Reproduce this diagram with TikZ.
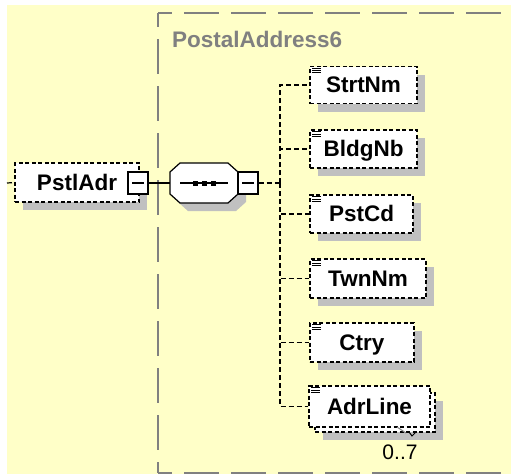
\documentclass[tikz,border=0pt]{standalone}
\usepackage{fontspec}
\setmainfont{Liberation Sans}
\usetikzlibrary{shadows,calc}
\definecolor{bgyellow}{RGB}{255,255,200}
\definecolor{shadowgray}{RGB}{192,192,192}
\definecolor{groupgray}{RGB}{128,128,128}
\tikzset{
  elemplain/.style={draw=black, fill=white, line width=1.2pt, dash pattern=on 4pt off 2.5pt, inner sep=0pt, minimum height=37pt, text height=16pt, text depth=1pt, font=\fontsize{22.5}{24}\selectfont\bfseries},
  elembox/.style={elemplain, general shadow={fill=shadowgray, shadow xshift=8pt, shadow yshift=-8pt}},
  minusbox/.style={draw=black, solid, fill=white, line width=1.2pt, minimum width=20pt, minimum height=22pt, inner sep=0pt, path picture={\draw[line width=1.2pt] ([xshift=4pt]path picture bounding box.west) -- ([xshift=-4pt]path picture bounding box.east);}},
  conn/.style={draw=black, line width=1.2pt, dash pattern=on 5pt off 3pt},
  solidconn/.style={draw=black, line width=1.2pt},
  groupline/.style={draw=groupgray, line width=1.3pt, dash pattern=on 35pt off 12pt, dash phase=21pt},
  iconline/.style={draw=black, line width=0.9pt},
}
\begin{document}
\begin{tikzpicture}[x=1pt,y=-1pt]
\useasboundingbox (0,0) rectangle (511,474);
\begin{scope}
  \clip (0,0) rectangle (511,474);
  \fill[white] (0,0) rectangle (511,474);
  \fill[bgyellow] (7,5) rectangle (511,474);
  \draw[groupline] (158,13) -- (530,13);
  \draw[groupline] (158,13) -- (158,473);
  \draw[groupline] (158,473) -- (530,473);
\end{scope}
\node[anchor=base west, inner sep=0pt, text=groupgray, font=\fontsize{22.5}{24}\selectfont\bfseries] (gtitle) at (172,47) {PostalAddress6};

% parent element
\node[elembox, minimum width=124pt, minimum height=39pt] (pstl) at (77,182.5) {PstlAdr\hspace{9pt}};
\node[minusbox] (pstlm) at (138,183) {};

% sequence compositor
\node[inner sep=0pt, minimum width=68pt, minimum height=40pt] (seq) at (204,183) {};
\fill[shadowgray, shift={(8,8)}] (170,172) -- (180,163) -- (228,163) -- (238,172) -- (238,194) -- (228,203) -- (180,203) -- (170,194) -- cycle;
\draw[solidconn, fill=white] (170,172) -- (180,163) -- (228,163) -- (238,172) -- (238,194) -- (228,203) -- (180,203) -- (170,194) -- cycle;
\draw[solidconn] (180,183) -- (228,183);
\foreach \dx in {195.5,204,213.5} \fill[black] (\dx-2.5,180.5) rectangle (\dx+2.5,185.5);
\node[minusbox] (seqm) at (248,183) {};

\draw[solidconn] (pstlm.east) -- (seq.west);
\coordinate (lin) at (7,183);
\draw[conn] (lin) -- (pstl.west);
\coordinate (vjoin) at (280,183);
\draw[conn] (seqm.east) -- (vjoin);

% children
\node[elembox, minimum width=107pt, minimum height=37pt] (strt) at (363.5,85) {StrtNm};
\node[elembox, minimum width=107pt, minimum height=38pt] (bldg) at (363.5,149) {BldgNb};
\node[elembox, minimum width=103pt, minimum height=38pt] (pstcd) at (361.5,214) {PstCd};
\node[elembox, minimum width=116pt, minimum height=39pt] (twn) at (368,278.5) {TwnNm};
\node[elembox, minimum width=104pt, minimum height=39pt] (ctry) at (362,342.5) {Ctry};
\node[elembox, minimum width=120pt, minimum height=39pt] (adrback) at (375,412.5) {};
\node[elemplain, minimum width=121pt, minimum height=41pt] (adr) at (369.5,406.5) {AdrLine};

\foreach \n in {strt,bldg,pstcd,twn,ctry,adr} {
  \foreach \dy in {2.2,4.6,7} \draw[iconline] ($(\n.north west)+(3,\dy)$) -- ++(9,0);
}

\foreach \n in {strt,bldg,pstcd,twn,ctry,adr} \draw[conn] (vjoin) |- (\n.west);

% multiplicity
\draw[draw=shadowgray!70!black, line width=1pt] (397,427) -- (406,433);
\draw[line width=1pt] (409,432) -- (412,436) -- (416,432);
\node[inner sep=0pt, font=\fontsize{21}{22}\selectfont] (mult) at (400,452) {0..7};
\end{tikzpicture}
\end{document}
